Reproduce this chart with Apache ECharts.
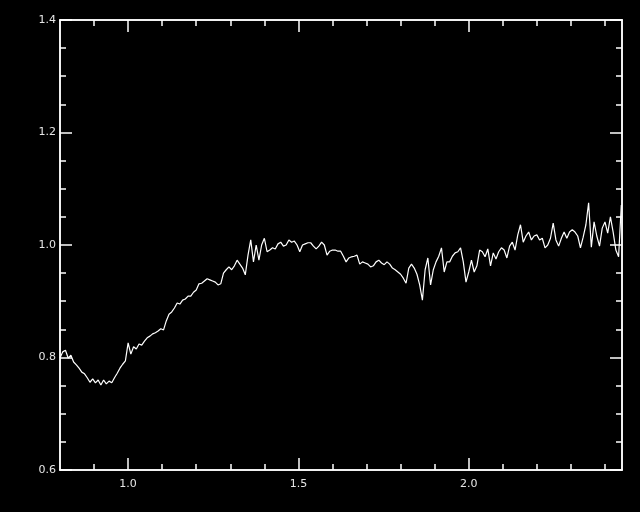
<!DOCTYPE html>
<html>
<head>
<meta charset="utf-8">
<script src="https://cdn.jsdelivr.net/npm/echarts@6/dist/echarts.min.js"></script>
<style>
html,body{margin:0;padding:0;background:#000;}
#chart{width:640px;height:512px;}
</style>
</head>
<body>
<div id="chart"></div>
<script>
// Sampling grid of the spectrum (x)
const xStart = 0.8;
const xStep = 0.008;
// Spectrum values (y)
const yValues = [
0.799,0.810,0.813,0.799,0.804,0.792,0.787,0.781,0.774,0.771,
0.764,0.756,0.762,0.755,0.760,0.751,0.760,0.753,0.758,0.755,
0.764,0.772,0.781,0.788,0.794,0.826,0.806,0.819,0.815,0.824,
0.822,0.829,0.835,0.838,0.842,0.844,0.847,0.851,0.849,0.865,
0.877,0.881,0.888,0.897,0.895,0.902,0.904,0.909,0.909,0.916,
0.920,0.931,0.932,0.936,0.940,0.938,0.936,0.934,0.929,0.931,
0.950,0.956,0.961,0.956,0.963,0.973,0.966,0.959,0.947,0.982,
1.009,0.970,1.000,0.973,1.000,1.012,0.988,0.991,0.995,0.993,
1.002,1.005,0.998,1.000,1.009,1.005,1.007,1.000,0.988,1.000,
1.002,1.004,1.004,0.998,0.993,0.998,1.005,1.000,0.982,0.989,
0.991,0.991,0.989,0.989,0.980,0.970,0.977,0.979,0.980,0.982,
0.966,0.970,0.968,0.966,0.961,0.963,0.970,0.973,0.968,0.965,
0.970,0.966,0.959,0.956,0.952,0.948,0.941,0.932,0.959,0.966,
0.959,0.948,0.929,0.902,0.956,0.977,0.929,0.956,0.970,0.980,
0.995,0.952,0.970,0.970,0.980,0.986,0.988,0.995,0.970,0.934,
0.952,0.973,0.952,0.963,0.991,0.988,0.979,0.993,0.963,0.986,
0.975,0.988,0.995,0.991,0.977,0.998,1.005,0.991,1.018,1.036,
1.005,1.016,1.023,1.009,1.016,1.018,1.009,1.012,0.995,1.000,
1.012,1.039,1.009,0.998,1.012,1.023,1.012,1.023,1.027,1.023,
1.016,0.995,1.014,1.036,1.075,0.996,1.041,1.016,0.998,1.030,
1.041,1.021,1.050,1.023,0.991,0.979,1.071
];
// Tick positions
const xMajorTicks = [1.0, 1.5, 2.0];
const xMinorTicks = [0.9,1.0,1.1,1.2,1.3,1.4,1.5,1.6,1.7,1.8,1.9,2.0,2.1,2.2,2.3,2.4];
const yMajorTicks = [0.6, 0.8, 1.0, 1.2, 1.4];
const yMinorTicks = [0.65,0.7,0.75,0.85,0.9,0.95,1.05,1.1,1.15,1.25,1.3,1.35];

const points = yValues.map((v, i) => [+(xStart + i * xStep).toFixed(4), v]);

const AX = '#ffffff';
const LBL = '#e6e6e6';
const FONT = 'DejaVu Sans';

function xAxisDef(pos, ticks, len, labels) {
  return {
    type: 'value', position: pos, min: 0.8, max: 2.45,
    axisLine: {show: true, onZero: false, lineStyle: {color: AX, width: 1.5}},
    axisTick: {show: true, inside: true, length: len, customValues: ticks, lineStyle: {color: AX, width: 1.5}},
    axisLabel: labels ? {show: true, customValues: xMajorTicks, color: LBL, fontFamily: FONT, fontSize: 11, margin: 9,
      formatter: v => v.toFixed(1)} : {show: false},
    splitLine: {show: false}
  };
}
function yAxisDef(pos, ticks, len, labels) {
  return {
    type: 'value', position: pos, min: 0.6, max: 1.4,
    axisLine: {show: true, onZero: false, lineStyle: {color: AX, width: 1.5}},
    axisTick: {show: true, inside: true, length: len, customValues: ticks, lineStyle: {color: AX, width: 1.5}},
    axisLabel: labels ? {show: true, customValues: yMajorTicks, color: LBL, fontFamily: FONT, fontSize: 11, margin: 4,
      formatter: v => v.toFixed(1)} : {show: false},
    splitLine: {show: false}
  };
}

const chart = echarts.init(document.getElementById('chart'), null, {renderer: 'canvas'});
chart.setOption({
  backgroundColor: '#000000',
  animation: false,
  grid: {left: 60, right: 18, top: 20, bottom: 42, containLabel: false},
  xAxis: [
    xAxisDef('bottom', xMajorTicks, 12, true),
    xAxisDef('bottom', xMinorTicks, 6, false),
    xAxisDef('top', xMajorTicks, 12, false),
    xAxisDef('top', xMinorTicks, 6, false)
  ],
  yAxis: [
    yAxisDef('left', yMajorTicks, 12, true),
    yAxisDef('left', yMinorTicks, 6, false),
    yAxisDef('right', yMajorTicks, 12, false),
    yAxisDef('right', yMinorTicks, 6, false)
  ],
  series: [{
    type: 'line', xAxisIndex: 0, yAxisIndex: 0,
    data: points, showSymbol: false, symbol: 'none',
    lineStyle: {color: '#ffffff', width: 1.2},
    clip: true
  }]
});
</script>
</body>
</html>
